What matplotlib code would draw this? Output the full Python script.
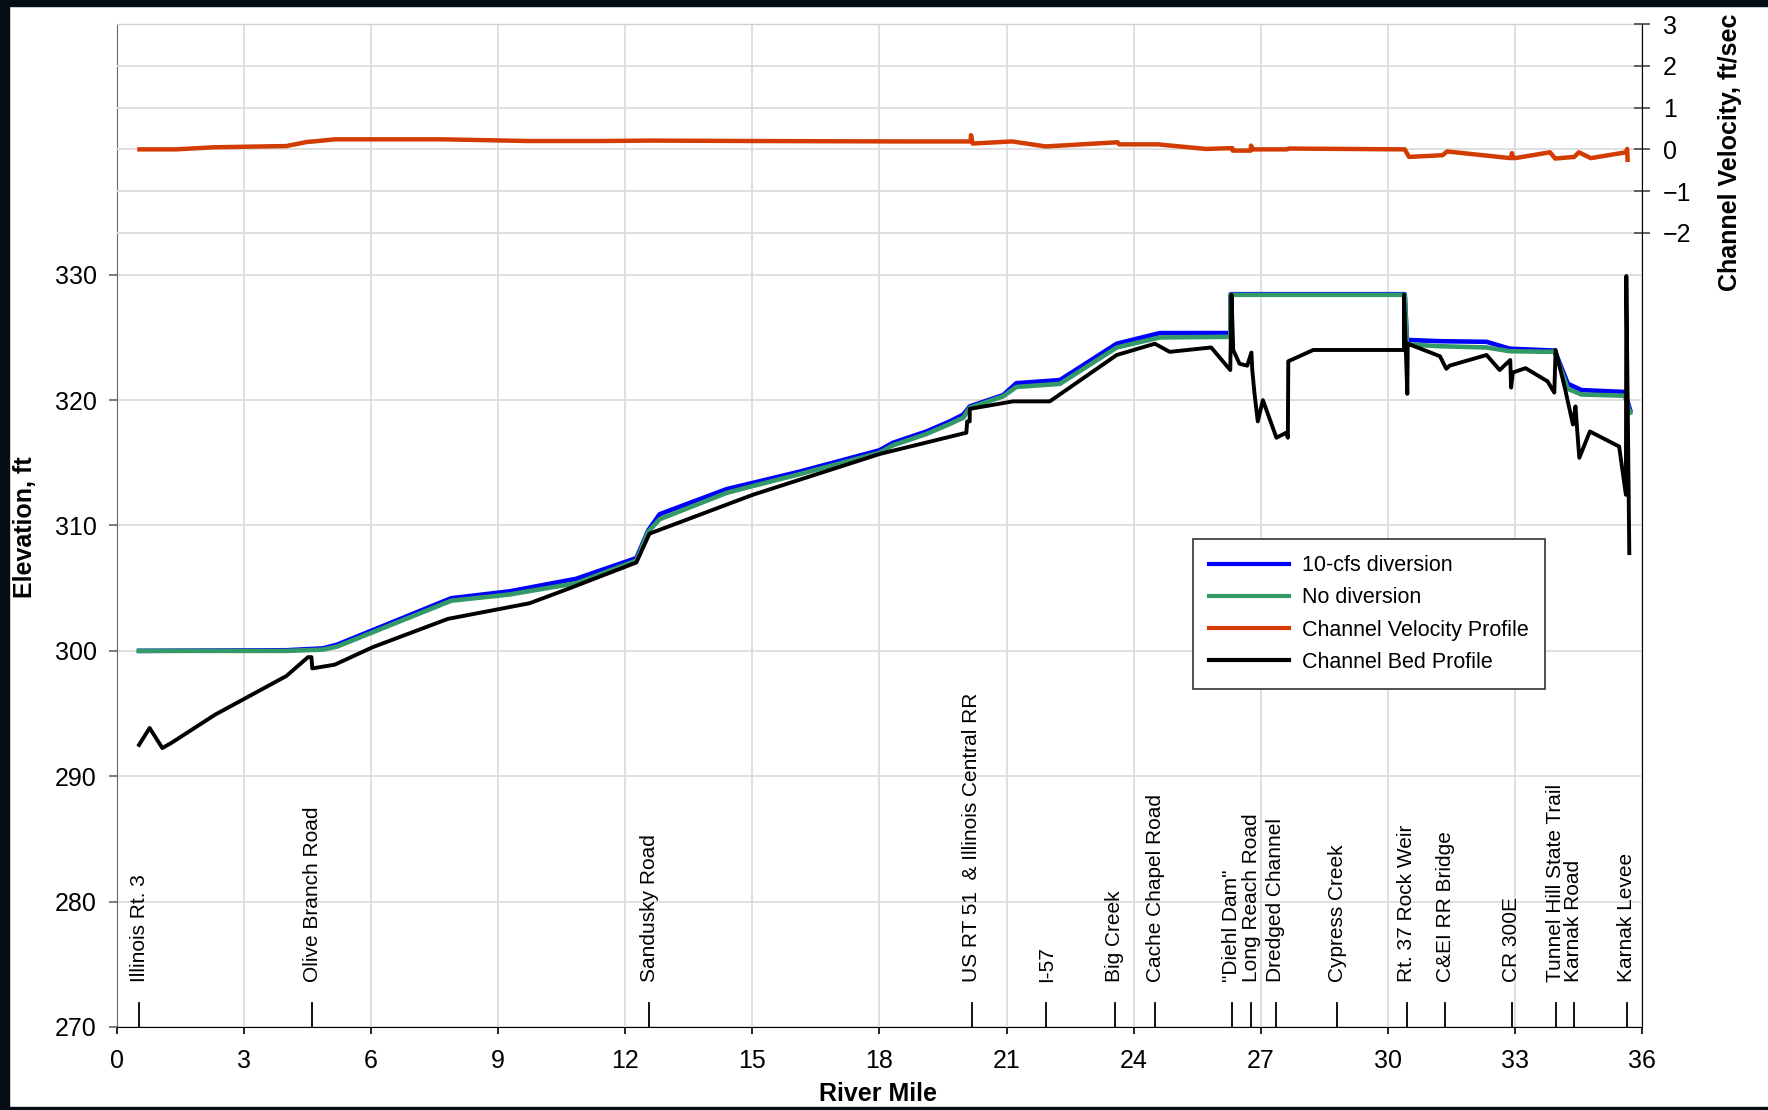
import matplotlib.pyplot as plt
from matplotlib.lines import Line2D
from matplotlib.patches import Rectangle

plt.rcParams['font.family'] = ['Liberation Sans', 'DejaVu Sans']

# water surface, 10-cfs diversion
div_mile = [0.52, 4.0, 4.86, 5.2, 7.89, 9.27, 10.84, 12.26, 12.54, 12.81, 14.39, 15.01,
            16.12, 18.0, 18.32, 19.11, 19.66, 19.98, 20.13, 20.92, 21.23, 22.26, 23.6,
            24.62, 26.28, 26.29, 30.4, 30.45, 31.23, 32.33, 32.88, 33.94, 34.25, 34.57,
            35.59, 35.72]
div_elev = [300.0, 300.05, 300.2, 300.5, 304.2, 304.75, 305.75, 307.4, 309.6, 310.9, 312.9,
            313.4, 314.3, 316.0, 316.6, 317.5, 318.3, 318.85, 319.5, 320.4, 321.35, 321.6,
            324.5, 325.35, 325.35, 328.45, 328.45, 324.8, 324.7, 324.65, 324.1, 323.95,
            321.3, 320.8, 320.65, 319.2]

# water surface, no diversion
nodiv_mile = div_mile
nodiv_elev = [300.0, 300.0, 300.1, 300.35, 304.0, 304.5, 305.4, 307.2, 309.5, 310.5, 312.6,
              313.15, 314.1, 315.8, 316.4, 317.3, 318.1, 318.6, 319.4, 320.3, 321.05, 321.3,
              324.2, 325.0, 325.05, 328.4, 328.4, 324.45, 324.3, 324.2, 323.9, 323.85,
              320.9, 320.45, 320.35, 319.0]

# channel bed profile
bed_mile = [0.52, 0.77, 1.07, 1.28, 2.31, 4.0, 4.51, 4.59, 4.61, 5.14, 6.04, 7.81, 9.74,
            10.69, 12.26, 12.57, 15.01, 18.0, 20.05, 20.07, 20.13, 20.13, 21.15, 22.02,
            23.6, 24.5, 24.85, 25.83, 26.28, 26.31, 26.35, 26.5, 26.68, 26.78, 26.8, 26.85,
            26.93, 27.05, 27.37, 27.6, 27.64, 27.65, 28.24, 30.38, 30.38, 30.46, 30.47,
            31.23, 31.38, 31.46, 32.33, 32.64, 32.89, 32.91, 32.95, 33.25, 33.77, 33.93,
            33.96, 34.17, 34.37, 34.43, 34.46, 34.52, 34.77, 35.46, 35.62, 35.63, 35.7]
bed_elev = [292.5, 293.85, 292.25, 292.65, 294.9, 298.0, 299.5, 299.5, 298.6, 298.9, 300.3,
            302.55, 303.8, 305.0, 307.05, 309.35, 312.45, 315.7, 317.4, 318.3, 318.3, 319.3,
            319.9, 319.9, 323.6, 324.5, 323.85, 324.2, 322.4, 328.4, 324.0, 322.9, 322.75,
            323.8, 322.4, 320.6, 318.3, 320.0, 317.0, 317.4, 317.0, 323.1, 324.0, 324.0,
            328.4, 320.5, 324.5, 323.5, 322.5, 322.75, 323.6, 322.4, 323.2, 321.0, 322.2,
            322.55, 321.5, 320.6, 324.0, 321.1, 318.05, 319.5, 318.05, 315.4, 317.5, 316.3,
            312.45, 329.9, 307.8]

# channel velocity profile (right axis)
vel_mile = [0.53, 1.39, 2.29, 4.0, 4.5, 4.64, 5.14, 7.71, 9.7, 11.4, 12.6, 15.0, 18.48,
            20.15, 20.16, 20.2, 21.13, 21.92, 23.62, 23.66, 24.57, 25.71, 26.33, 26.34,
            26.76, 26.77, 26.82, 27.62, 27.66, 30.4, 30.5, 31.29, 31.4, 32.9, 32.93, 32.96,
            33.06, 33.83, 33.95, 34.4, 34.51, 34.79, 35.62, 35.65, 35.66]
vel = [0.0, 0.0, 0.05, 0.08, 0.18, 0.19, 0.24, 0.24, 0.2, 0.2, 0.21, 0.2, 0.19,
       0.19, 0.34, 0.14, 0.19, 0.07, 0.17, 0.12, 0.12, 0.01, 0.03, -0.03,
       -0.03, 0.09, 0.0, 0.0, 0.02, 0.0, -0.18, -0.14, -0.05, -0.21, -0.09, -0.21,
       -0.2, -0.07, -0.22, -0.18, -0.07, -0.21, -0.07, 0.01, -0.25]

# landmarks along the river
landmarks = ['Illinois Rt. 3', 'Olive Branch Road', 'Sandusky Road',
             'US RT 51  & Illinois Central RR', 'I-57', 'Big Creek', 'Cache Chapel Road',
             '"Diehl Dam"', 'Long Reach Road', 'Dredged Channel', 'Cypress Creek',
             'Rt. 37 Rock Weir', 'C&EI RR Bridge', 'CR 300E', 'Tunnel Hill State Trail',
             'Karnak Road', 'Karnak Levee']
landmark_mile = [0.53, 4.61, 12.57, 20.18, 21.94, 23.55, 24.51, 26.32, 26.77, 27.36, 28.81,
                 30.45, 31.35, 32.92, 33.96, 34.39, 35.64]

W, H = 1768, 1110
fig = plt.figure(figsize=(W / 100, H / 100), dpi=100)
ax = fig.add_axes([117 / W, 1 - 1027 / H, 1525 / W, 1003 / H])
ax2 = ax.twinx()

# dark screenshot border
fig.patches.append(Rectangle((0, 1 - 6 / H), 1, 6 / H, transform=fig.transFigure,
                             color='#050d14', zorder=0))
fig.patches.append(Rectangle((0, 0), 9 / W, 1, transform=fig.transFigure,
                             color='#050d14', zorder=0))
fig.patches.append(Rectangle((0, 0), 1, 3 / H, transform=fig.transFigure,
                             color='#050d14', zorder=0))

grid_c = '#dcdcdc'
ax.set_xlim(0, 36)
ax.set_ylim(270, 350)
ax.set_xticks(range(0, 37, 3))
ax.set_yticks(range(270, 331, 10))
ax.grid(True, color=grid_c, linewidth=1.3)
ax.set_axisbelow(True)

ax2.set_ylim(-21, 3)
ax2.set_yticks([-2, -1, 0, 1, 2, 3])
ax2.grid(True, axis='y', color=grid_c, linewidth=1.3)
ax2.set_axisbelow(True)

ax.plot(div_mile, div_elev, color='#0000ff', linewidth=3.3, zorder=3)
ax.plot(nodiv_mile, nodiv_elev, color='#339966', linewidth=3.3, zorder=4)
ax.plot(bed_mile, bed_elev, color='black', linewidth=2.8, zorder=5)
ax2.plot(vel_mile, vel, color='#d23c00', linewidth=3.2, zorder=3)

for name, m in zip(landmarks, landmark_mile):
    ax.plot([m, m], [270, 271.95], color='black', linewidth=1.3, zorder=5)
    ax.text(m, 273.55, name, rotation=90, ha='center', va='bottom', fontsize=15)

for s in ['left', 'top']:
    ax.spines[s].set_color('#666666')
ax.spines['bottom'].set_color('black')
ax.spines['right'].set_visible(False)
for s in ['left', 'top', 'bottom']:
    ax2.spines[s].set_visible(False)
ax2.spines['right'].set_color('black')

ax.tick_params(axis='x', direction='out', length=5, width=1.2, pad=11, labelsize=18)
ax.tick_params(axis='y', direction='out', length=5.5, width=1.2, color='#666666',
               pad=9, labelsize=18)
ax2.tick_params(axis='y', direction='inout', length=12, width=1.3, color='#555555',
                pad=9, labelsize=18)

fig.text(25 / W, 1 - 527 / H, 'Elevation, ft', rotation=90, ha='center', va='center',
         fontsize=18, fontweight='bold')
fig.text(878 / W, 1 - 1094 / H, 'River Mile', ha='center', va='center',
         fontsize=18, fontweight='bold')
fig.text(1730 / W, 1 - 291 / H, 'Channel Velocity, ft/sec', rotation=90, ha='center',
         va='bottom', fontsize=18, fontweight='bold')

handles = [Line2D([], [], color='#0000ff', linewidth=3.0),
           Line2D([], [], color='#339966', linewidth=3.0),
           Line2D([], [], color='#d23c00', linewidth=3.0),
           Line2D([], [], color='black', linewidth=3.0)]
labels = ['10-cfs diversion', 'No diversion', 'Channel Velocity Profile',
          'Channel Bed Profile']
leg = ax2.legend(handles, labels, loc='upper left', bbox_to_anchor=(0.7056, 0.4865),
                 borderaxespad=0, fontsize=15.5, handlelength=3.7, handletextpad=0.62,
                 labelspacing=0.52, borderpad=0.75, fancybox=False, framealpha=1)
leg.get_frame().set_edgecolor('#333333')
leg.get_frame().set_linewidth(1.2)

fig.savefig('out.png', dpi=100, facecolor='white')
